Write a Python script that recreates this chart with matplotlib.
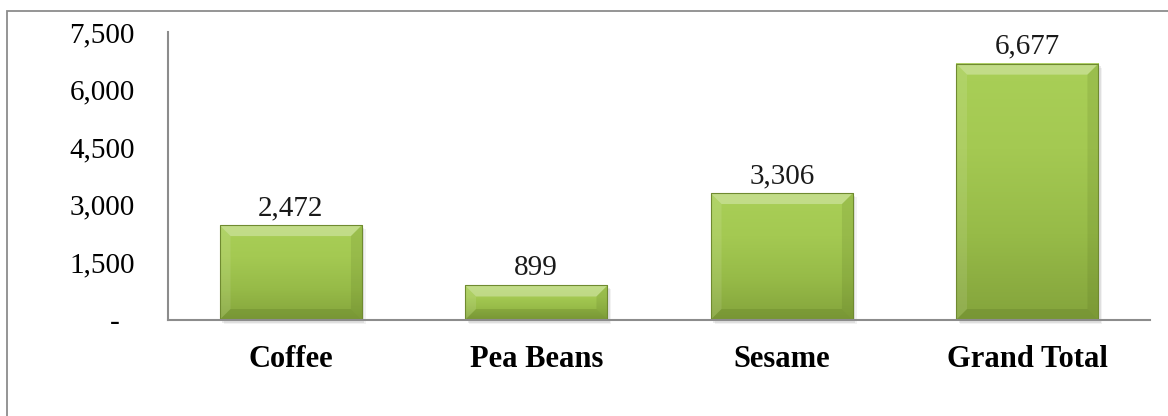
import numpy as np
from matplotlib import pyplot as plt
from matplotlib.patches import Polygon, Rectangle
from matplotlib.colors import LinearSegmentedColormap

plt.rcParams['font.family'] = ['Liberation Serif', 'DejaVu Serif']

categories = ['Coffee', 'Pea Beans', 'Sesame', 'Grand Total']
values = [2472, 899, 3306, 6677]
y_ticks = [0, 1500, 3000, 4500, 6000, 7500]
y_tick_labels = ['-  ', '1,500', '3,000', '4,500', '6,000', '7,500']

W, H = 1168, 416
fig = plt.figure(figsize=(W / 100, H / 100), dpi=100)
ax = fig.add_axes([168 / W, (H - 320) / H, (1150 - 168) / W, 288 / H])

# outer chart frame (open at right and bottom)
fig.patches.append(Rectangle((7 / W, -0.2), 1.2, 1.2 - 11 / H, transform=fig.transFigure,
                             fill=False, edgecolor='#8c8c8c', linewidth=1.3, zorder=0))

x = np.arange(len(categories))
width = 0.58
ax.set_xlim(-0.5, len(categories) - 0.5)
ax.set_ylim(0, 7500)

# pixel -> data conversion for the bevel size
px_x = len(categories) / (1150 - 168)
px_y = 7500 / 288
bx, by = 11 * px_x, 11 * px_y

grad = LinearSegmentedColormap.from_list('bar', ['#84a43c', '#97bb48', '#a4c952', '#a9cf57'])

bars = ax.bar(x, values, width=width, color='#9cc04c', edgecolor='none', zorder=2)
for xi, v, rect in zip(x, values, bars):
    x0, x1 = rect.get_x(), rect.get_x() + rect.get_width()
    # soft shadow
    for k, a in [(4, 0.05), (2.5, 0.08), (1, 0.1)]:
        ax.add_patch(Rectangle((x0 + k * px_x, -k * px_y), width, v, facecolor='black',
                               alpha=a, edgecolor='none', zorder=1, clip_on=False))
    ax.imshow(np.linspace(0, 1, 100).reshape(-1, 1), cmap=grad, origin='lower',
              extent=(x0, x1, 0, v), aspect='auto', zorder=2.5)
    b = min(by, v / 3)
    faces = [
        ([(x0, v), (x1, v), (x1 - bx, v - b), (x0 + bx, v - b)], '#ffffff', 0.3),
        ([(x0, 0), (x0 + bx, b), (x0 + bx, v - b), (x0, v)], '#ffffff', 0.1),
        ([(x1, 0), (x1, v), (x1 - bx, v - b), (x1 - bx, b)], '#3d5212', 0.12),
        ([(x0, 0), (x1, 0), (x1 - bx, b), (x0 + bx, b)], '#3d5212', 0.16),
    ]
    for pts, c, a in faces:
        ax.add_patch(Polygon(pts, closed=True, facecolor=c, alpha=a, edgecolor='none', zorder=3))
    ax.add_patch(Rectangle((x0, 0), width, v, fill=False, edgecolor='#6f8a30',
                           linewidth=0.8, zorder=4))
    ax.annotate(f'{v:,}', (xi, v), xytext=(0, 3), textcoords='offset points',
                ha='center', va='bottom', fontsize=21, color='#1a1a1a')

ax.set_xticks(x)
ax.set_xticklabels(categories, fontsize=22, fontweight='bold')
ax.set_yticks(y_ticks)
ax.set_yticklabels(y_tick_labels, fontsize=21)
ax.tick_params(axis='both', length=0)
ax.tick_params(axis='x', pad=18)
ax.tick_params(axis='y', pad=24)

for side in ['top', 'right']:
    ax.spines[side].set_visible(False)
for side in ['left', 'bottom']:
    ax.spines[side].set_color('#8c8c8c')
    ax.spines[side].set_linewidth(1.5)
    ax.spines[side].set_zorder(5)

fig.savefig('out.png', dpi=100)
